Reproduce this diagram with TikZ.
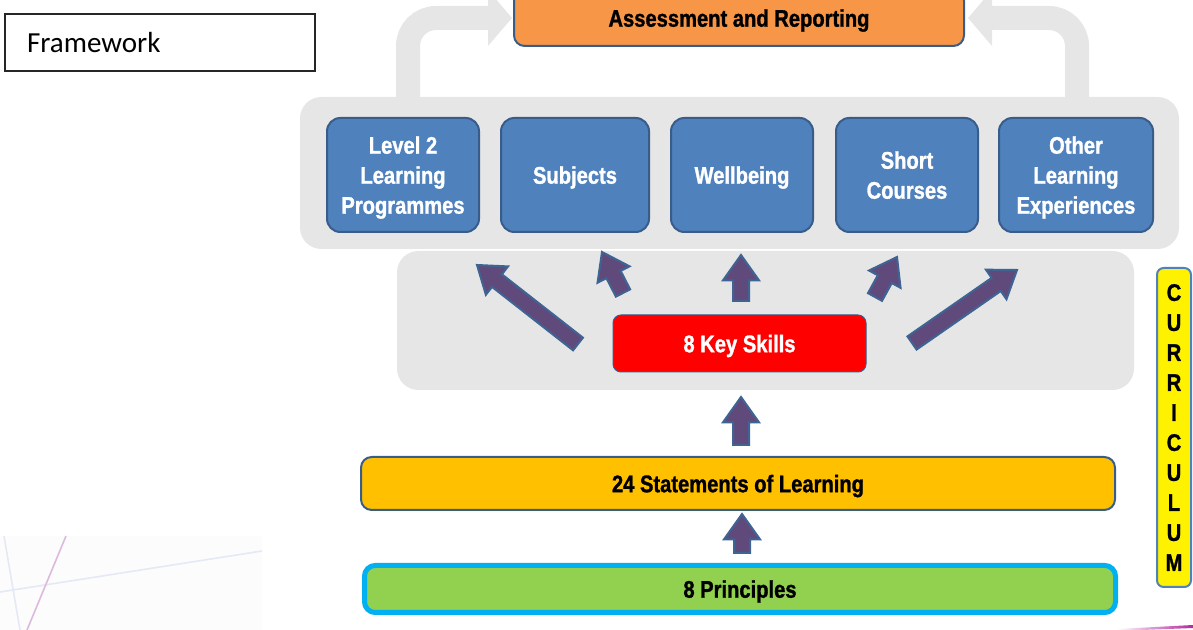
\documentclass[tikz,border=0pt]{standalone}
\usepackage{fontspec}
\setmainfont{Carlito}
\newfontfamily\boxfont[FakeStretch=0.84,BoldFont={Liberation Sans Bold},BoldFeatures={FakeBold=1.2}]{Liberation Sans}
\usetikzlibrary{calc}

\definecolor{boxblue}{RGB}{79,129,189}
\definecolor{edgeblue}{RGB}{56,93,138}
\definecolor{panelgray}{RGB}{230,230,230}
\definecolor{assessorange}{RGB}{247,150,70}
\definecolor{stmtgold}{RGB}{255,192,0}
\definecolor{priogreen}{RGB}{146,208,80}
\definecolor{prioedge}{RGB}{0,176,240}
\definecolor{arrowplum}{RGB}{96,74,123}
\definecolor{arrowedge}{RGB}{62,100,148}
\definecolor{decoblue}{RGB}{228,233,245}
\definecolor{decopink}{RGB}{221,186,221}
\definecolor{decomagenta}{RGB}{180,40,160}

\tikzset{every picture/.style={line width=0.75pt}}
\tikzset{
  panel/.style={fill=panelgray, draw=none, rounded corners=16pt, inner sep=0pt},
  bluebox/.style={fill=boxblue, draw=edgeblue, line width=1.5pt, rounded corners=10pt,
    minimum height=85.5pt, inner sep=0pt, align=center, text=white, text depth=0pt,
    font=\boxfont\bfseries\fontsize{18}{22.5}\selectfont},
  flatbox/.style={line width=1.5pt, rounded corners=8pt, inner sep=0pt, text depth=0pt,
    font=\boxfont\bfseries\fontsize{18}{22.5}\selectfont},
  bentshaft/.style={draw=panelgray, line width=18pt, rounded corners=21pt},
  plumarrow/.style={fill=arrowplum, draw=arrowedge, line width=1.5pt, line join=miter}
}

% block arrow from tail #1 to tip #2
\newcommand{\skillarrow}[2]{%
  \coordinate (hb) at ($(#2)!19pt!(#1)$);
  \filldraw[plumarrow] ($(#1)!6pt!90:(#2)$) -- ($(hb)!6pt!-90:(#1)$) -- ($(hb)!13.5pt!-90:(#1)$)
    -- (#2) -- ($(hb)!13.5pt!90:(#1)$) -- ($(hb)!6pt!90:(#1)$) -- ($(#1)!6pt!-90:(#2)$) -- cycle;}

\begin{document}
\begin{tikzpicture}[x=0.75pt,y=0.75pt,yscale=-1,xscale=1]
\useasboundingbox (0,0) rectangle (1193,630);

%Shape: corner decoration
\fill[black!1] (0,536) rectangle (262,630);
\draw[decoblue, line width=1.2pt] (0,592) -- (262,551);
\draw[decoblue, line width=1.2pt] (4,536) -- (20,630);
\draw[decopink, line width=1.2pt] (66,536) -- (27,630);
\shade[left color=white, right color=decomagenta] (1117,629) -- (1193,625) -- (1193,628) -- (1117,631) -- cycle;

%Text box
\node[draw=black!85, line width=1.5pt, minimum width=232.5pt, minimum height=42.75pt,
  text width=199.5pt, inner xsep=16.5pt, align=left, font=\fontsize{21.8}{24}\selectfont]
  (frame) at (160,42.5) {Framework};

%Bent arrows
\coordinate (lstem) at (408,99);
\coordinate (lbend) at (488,18);
\draw[bentshaft] (lstem) |- (lbend);
\fill[panelgray] ($(lbend)+(0,-28)$) -- ($(lbend)+(24,0)$) -- ($(lbend)+(0,28)$) -- cycle;
\coordinate (rstem) at (1077,99);
\coordinate (rbend) at (992,18);
\draw[bentshaft] (rstem) |- (rbend);
\fill[panelgray] ($(rbend)+(0,-28)$) -- ($(rbend)+(-24,0)$) -- ($(rbend)+(0,28)$) -- cycle;

%Rounded Rect: panels
\node[panel, minimum width=659.25pt, minimum height=114pt] (toprow) at (739.5,173) {};
\node[panel, minimum width=552.75pt, minimum height=104.25pt] (midrow) at (765.5,320.5) {};

%Assessment
\node[flatbox, fill=assessorange, draw=edgeblue, minimum width=337.5pt, minimum height=42pt]
  (assess) at (739,18) {Assessment and Reporting};

%Top row
\node[bluebox, minimum width=114pt] (lvl) at (403,175) {Level 2\\Learning\\Programmes};
\node[bluebox, minimum width=111pt] (subj) at (575,175) {Subjects};
\node[bluebox, minimum width=106.5pt] (well) at (742,175) {Wellbeing};
\node[bluebox, minimum width=106.5pt] (short) at (907,175) {Short\\Courses};
\node[bluebox, minimum width=115.5pt] (other) at (1076,175) {Other\\Learning\\Experiences};

%Key skills
\node[flatbox, fill=red, draw=edgeblue, line width=0.75pt, rounded corners=6pt, text=white,
  minimum width=189.75pt, minimum height=42.75pt] (skills) at (739.5,343.5) {8 Key Skills};

%Statements and principles
\node[flatbox, fill=stmtgold, draw=edgeblue, minimum width=565.5pt, minimum height=39.75pt]
  (stmts) at (738,483.5) {24 Statements of Learning};
\node[flatbox, fill=priogreen, draw=prioedge, line width=3.75pt,
  minimum width=563.25pt, minimum height=35.25pt] (princ) at (740,589) {8 Principles};

%Curriculum
\node[flatbox, fill=yellow, draw=boxblue, rounded corners=5pt, align=center,
  minimum width=25.5pt, minimum height=239.25pt] (curr) at (1174,427.5)
  {C\\U\\R\\R\\I\\C\\U\\L\\U\\M};

%Block arrows
\coordinate (ta) at (578,344); \coordinate (pa) at (477,265);
\coordinate (tb) at (623,293); \coordinate (pb) at (602,252);
\coordinate (tc) at (741,301); \coordinate (pc) at (741,255);
\coordinate (td) at (875,297); \coordinate (pd) at (897,257);
\coordinate (te) at (912,343); \coordinate (pe) at (1017,270);
\coordinate (tf) at (741,445); \coordinate (pf) at (741,397);
\coordinate (tg) at (742,553); \coordinate (pg) at (742,514);
\skillarrow{ta}{pa}
\skillarrow{tb}{pb}
\skillarrow{tc}{pc}
\skillarrow{td}{pd}
\skillarrow{te}{pe}
\skillarrow{tf}{pf}
\skillarrow{tg}{pg}

\end{tikzpicture}
\end{document}
